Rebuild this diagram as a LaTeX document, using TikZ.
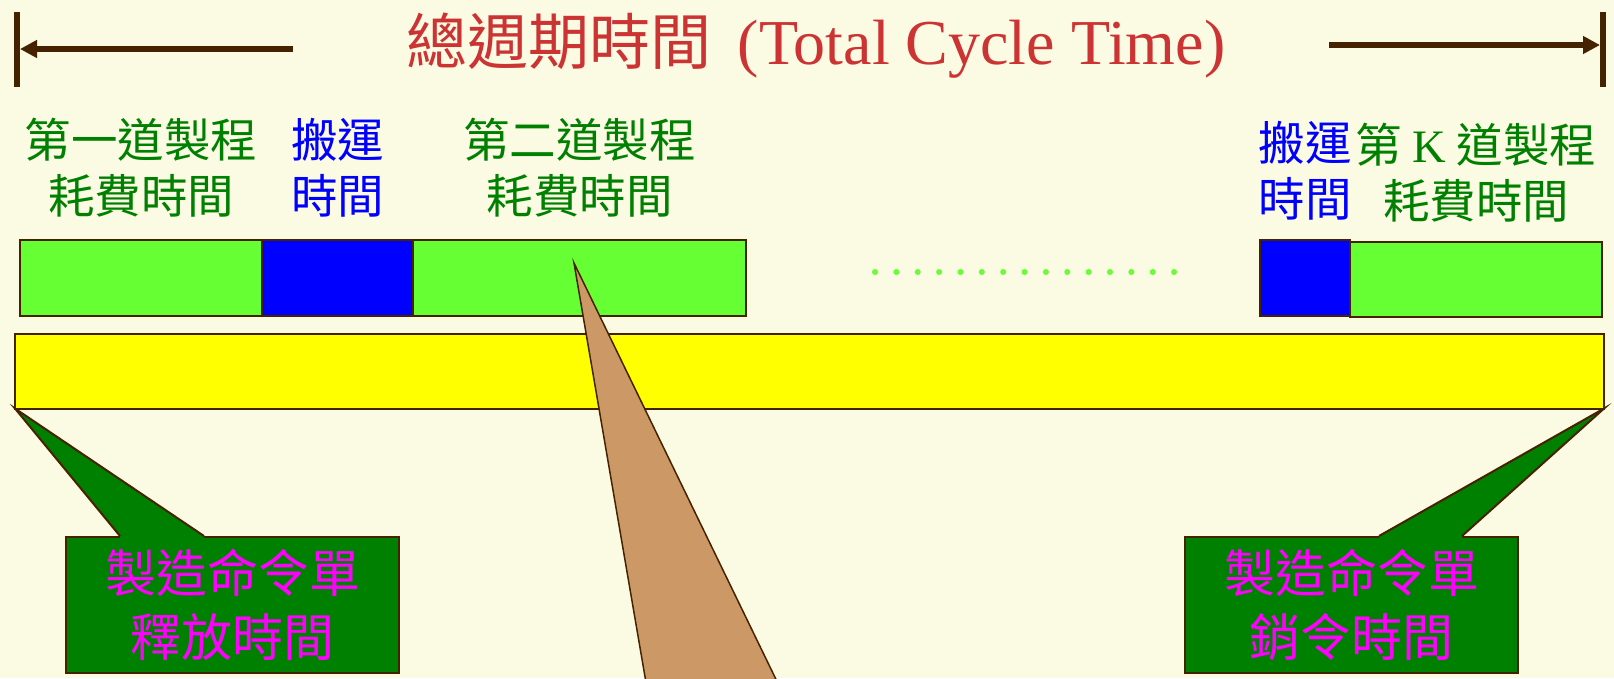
\documentclass[tikz,border=0pt]{standalone}
\usepackage{fontspec}
\setmainfont{Liberation Serif}
\newfontfamily\cjk{Noto Sans CJK TC}
\usepackage{tikz}
\usetikzlibrary{arrows.meta}
\usetikzlibrary{positioning}
\definecolor{paper}{RGB}{251,250,227}
\definecolor{edge}{RGB}{69,34,0}
\definecolor{procgreen}{RGB}{102,255,51}
\definecolor{textgreen}{RGB}{0,128,0}
\definecolor{titlered}{RGB}{204,51,51}
\definecolor{wedge}{RGB}{204,153,102}
\definecolor{pureblue}{RGB}{0,0,255}
\definecolor{pureyellow}{RGB}{255,255,0}
\definecolor{puremagenta}{RGB}{255,0,255}

\begin{document}
\begin{tikzpicture}[x=1pt,y=-1pt,
		slot/.style={draw=edge,line width=2pt,outer sep=0pt,inner sep=0pt,minimum height=76pt},
		proc/.style={slot,fill=procgreen},
		carry/.style={slot,fill=pureblue},
		lbl/.style={font=\cjk\fontsize{46.5}{56}\selectfont,align=center,inner sep=0pt},
		ordbox/.style={draw=edge,line width=2pt,fill=textgreen,minimum width=333pt,minimum height=136pt,
			text=puremagenta,font=\cjk\fontsize{51}{64}\selectfont,align=center},
		spanline/.style={line width=6pt,draw=edge,-{Triangle[length=17pt,width=17pt]}},
		endbar/.style={fill=edge,minimum width=6pt,minimum height=75pt,inner sep=0pt,outer sep=0pt},
		tail/.style={draw=edge,line width=2pt}]
		
		\fill[paper] (0,0) rectangle (1614,678);
		\clip (0,0) rectangle (1614,678);
		
		% total cycle time
		\node[anchor=base,text=titlered,font=\fontsize{64}{70}\selectfont] (T) at (816,64)
			{{\cjk\fontsize{61}{70}\selectfont 總週期時間}\hspace{26pt}(Total Cycle Time)};
		\node[endbar] (LB) at (17,49.5) {};
		\node[endbar] (RB) at (1603,49.5) {};
		\coordinate (LS) at (293,49);
		\coordinate (RS) at (1329,45);
		\draw[spanline] (LS) -- (LS -| LB.east);
		\draw[spanline] (RS) -- (RS -| RB.west);
		
		% process and transport blocks
		\node[proc,minimum width=242pt,anchor=north west] (G1) at (20,240) {};
		\node[carry,minimum width=151pt,right=0pt of G1] (B1) {};
		\node[proc,minimum width=333pt,right=0pt of B1] (G2) {};
		\node[carry,minimum width=90pt,anchor=north west] (B2) at (1260,240) {};
		\node[proc,minimum width=252pt,minimum height=75pt,anchor=north west] (G3) at (1350,242) {};
		\foreach \i in {0,...,14}
			\fill[procgreen] (875+\i*21.36,272) circle (3pt);
		
		\node[lbl,text=textgreen,above=23pt of G1] (L1) {第一道製程\\耗費時間};
		\node[lbl,text=pureblue,above=23pt of B1] (M1) {搬運\\時間};
		\node[lbl,text=textgreen,above=23pt of G2] (L2) {第二道製程\\耗費時間};
		\node[lbl,text=pureblue,above=20pt of B2] (M2) {搬運\\時間};
		\node[lbl,text=textgreen,above=20pt of G3] (LK) {第 {\rmfamily K} 道製程\\耗費時間};
		
		% order span
		\node[slot,fill=pureyellow,minimum width=1589pt,minimum height=75pt,anchor=north west] (Y) at (15,333.5) {};
		
		% callouts
		\node[ordbox,anchor=north west] (R) at (65,536) {製造命令單\\釋放時間};
		\node[ordbox,anchor=north west] (C) at (1184,536) {製造命令單\\銷令時間};
		\coordinate (Ra) at (120,536);
		\coordinate (Rb) at (204,536);
		\coordinate (Ca) at (1379,536);
		\coordinate (Cb) at (1462,536);
		\fill[textgreen] (Ra) -- (Y.south west) -- (Rb) -- (204,540) -- (120,540) -- cycle;
		\draw[tail] (Ra) -- (Y.south west) -- (Rb);
		\fill[textgreen] (Ca) -- (Y.south east) -- (Cb) -- (1462,540) -- (1379,540) -- cycle;
		\draw[tail] (Ca) -- (Y.south east) -- (Cb);
		
		\coordinate (W) at (574,263);
		\filldraw[fill=wedge,draw=edge,line width=1.5pt] (W) -- (649,700) -- (786,700) -- cycle;
		
\end{tikzpicture}
\end{document}
